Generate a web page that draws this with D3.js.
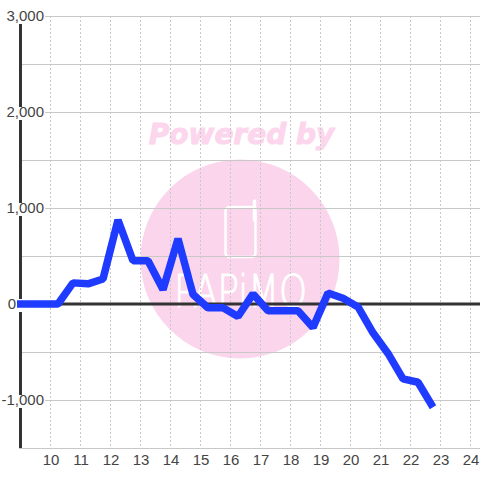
<!DOCTYPE html>
<html>
<head>
<meta charset="utf-8">
<script src="https://cdnjs.cloudflare.com/ajax/libs/d3/7.8.5/d3.min.js"></script>
<style>
  html, body { margin: 0; padding: 0; background: #fff; }
  svg { display: block; }
</style>
</head>
<body>
<svg width="480" height="480"></svg>
<script>
const hours = [8.75, 9.25, 9.75, 10.25, 10.75, 11.25, 11.75, 12.25, 12.75, 13.25, 13.75, 14.25, 14.75, 15.25,
    15.75, 16.25, 16.75, 17.25, 17.75, 18.25, 18.75, 19.25, 19.75, 20.25, 20.75, 21.25, 21.75, 22.25, 22.75];
const values = [0, 0, 0, 0, 220, 210, 260, 875, 450, 450, 150, 680, 100, -40,
    -40, -130, 105, -70, -70, -70, -245, 115, 60, -30, -300, -515, -780, -815, -1075];
const x_ticks = [10, 11, 12, 13, 14, 15, 16, 17, 18, 19, 20, 21, 22, 23, 24];
const y_labels = [-1000, 0, 1000, 2000, 3000];
const y_grid = [-1000, -500, 500, 1000, 1500, 2000, 2500, 3000];

let font_family = "'Liberation Sans', Arial, sans-serif";
let font_size = 15;
let text_color = "#444";
let grid_color = "#c8c8c8";

let svg = d3.select("svg");

let x = d3.scaleLinear().domain([9, 24]).range([20.5, 470.5]);
let y = d3.scaleLinear().domain([-1500, 3000]).range([448, 16]);

let locale = d3.formatLocale({ decimal: ".", thousands: ",", grouping: [3], currency: ["$", ""], minus: "-" });

// watermark sits under everything else
let mark = svg.append("g");
mark.append("text")
    .attr("x", 241.5)
    .attr("y", 144)
    .attr("text-anchor", "middle")
    .attr("font-family", "'DejaVu Sans'")
    .attr("font-size", "28px")
    .attr("font-weight", "bold")
    .attr("font-style", "italic")
    .attr("fill", "#fcd6ec")
    .attr("stroke", "#fcd6ec")
    .attr("stroke-width", 1)
    .text("Powered by");
mark.append("circle")
    .attr("cx", 240)
    .attr("cy", 259)
    .attr("r", 99.5)
    .attr("fill", "#fbd5ec");
mark.append("rect")
    .attr("x", 225.5)
    .attr("y", 207)
    .attr("width", 30)
    .attr("height", 50)
    .attr("rx", 4)
    .attr("fill", "none")
    .attr("stroke", "#fff")
    .attr("stroke-width", 2.5);
mark.append("line")
    .attr("x1", 254.5)
    .attr("y1", 201)
    .attr("x2", 254.5)
    .attr("y2", 220)
    .attr("stroke", "#fff")
    .attr("stroke-width", 3.5)
    .attr("stroke-linecap", "round");
mark.append("text")
    .attr("x", 174)
    .attr("y", 307)
    .attr("textLength", 133)
    .attr("lengthAdjust", "spacingAndGlyphs")
    .attr("font-family", "'DejaVu Sans ExtraLight', 'DejaVu Sans'")
    .attr("font-weight", 200)
    .attr("font-size", "44px")
    .attr("fill", "#fff")
    .attr("stroke", "#fff")
    .attr("stroke-width", 0.9)
    .text("PAPiMO");

// grid
svg.append("g").selectAll("line")
    .data(y_grid)
    .join("line")
    .attr("x1", x(9))
    .attr("x2", 480)
    .attr("y1", d => y(d) + 0.5)
    .attr("y2", d => y(d) + 0.5)
    .attr("stroke", grid_color);

svg.append("g").selectAll("line")
    .data(x_ticks)
    .join("line")
    .attr("x1", d => x(d))
    .attr("x2", d => x(d))
    .attr("y1", y(3000))
    .attr("y2", y(-1500))
    .attr("stroke", grid_color)
    .attr("stroke-dasharray", "2,2");

// bottom axis
let x_axis = svg.append("g")
    .attr("transform", "translate(0," + (y(-1500) + 0.5) + ")")
    .call(d3.axisBottom(x).tickValues(x_ticks).tickSize(0).tickPadding(6).tickFormat(d3.format("d")));
x_axis.select(".domain").remove();
x_axis.append("line")
    .attr("x1", 19)
    .attr("x2", 480)
    .attr("stroke", grid_color);

// left spine
svg.append("line")
    .attr("x1", x(9))
    .attr("x2", x(9))
    .attr("y1", y(3000))
    .attr("y2", y(-1500))
    .attr("stroke", "#333")
    .attr("stroke-width", 3);

// zero line
svg.append("line")
    .attr("x1", x(9))
    .attr("x2", 480)
    .attr("y1", y(0))
    .attr("y2", y(0))
    .attr("stroke", "#333")
    .attr("stroke-width", 3);

// labels knock out the spine and grid behind them
svg.append("g").selectAll("rect")
    .data(y_labels)
    .join("rect")
    .attr("x", 0)
    .attr("y", d => y(d) - 5)
    .attr("width", 45)
    .attr("height", 13)
    .attr("fill", "#fff");

let y_axis = svg.append("g")
    .attr("transform", "translate(44,0)")
    .call(d3.axisLeft(y).tickValues(y_labels).tickSize(0).tickPadding(0).tickFormat(locale.format(",")));
y_axis.select(".domain").remove();

// the zero label sits left of where the series starts
y_axis.selectAll(".tick text")
    .filter(d => d === 0)
    .attr("dx", -28);

svg.selectAll(".tick text")
    .attr("font-family", font_family)
    .attr("font-size", font_size + "px")
    .attr("fill", text_color);

// series
svg.append("clipPath")
    .attr("id", "plot_clip")
    .append("rect")
    .attr("x", 17)
    .attr("y", 0)
    .attr("width", 463)
    .attr("height", 480);

let line = d3.line()
    .x((d, i) => x(hours[i]))
    .y(d => y(d));

svg.append("path")
    .datum(values)
    .attr("d", line)
    .attr("clip-path", "url(#plot_clip)")
    .attr("fill", "none")
    .attr("stroke", "#1f3bff")
    .attr("stroke-width", 7.5)
    .attr("stroke-linejoin", "bevel");
</script>
</body>
</html>
